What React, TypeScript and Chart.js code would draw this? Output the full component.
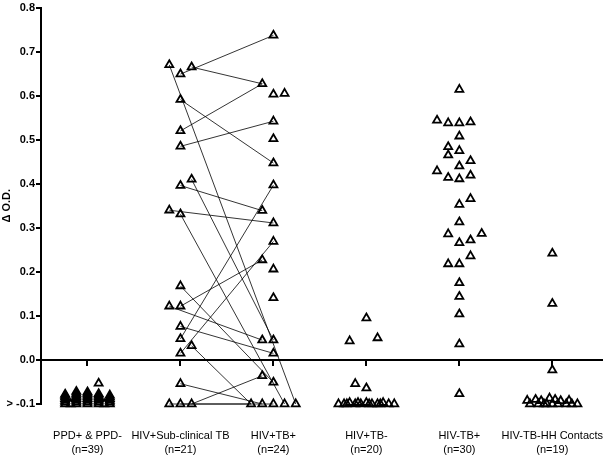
import React, { useEffect, useRef } from "react";
import { Chart, registerables } from "chart.js";

Chart.register(...registerables);

const categories = ["PPD+ & PPD-", "HIV+Sub-clinical TB", "HIV+TB+", "HIV+TB-", "HIV-TB+", "HIV-TB-HH Contacts"];
const counts = ["(n=39)", "(n=21)", "(n=24)", "(n=20)", "(n=30)", "(n=19)"];
const yTicks = [-0.1, 0, 0.1, 0.2, 0.3, 0.4, 0.5, 0.6, 0.7, 0.8];

// jitter slot of each point inside its column
const ppdVals = [-0.053,
  -0.1, -0.096, -0.092, -0.088, -0.084, -0.081, -0.078,
  -0.1, -0.096, -0.092, -0.088, -0.084, -0.08, -0.076, -0.072,
  -0.1, -0.096, -0.092, -0.088, -0.084, -0.08, -0.076, -0.073,
  -0.1, -0.096, -0.092, -0.088, -0.084, -0.08, -0.077,
  -0.1, -0.096, -0.092, -0.088, -0.084, -0.08,
  -0.1, -0.1];
const ppdSlots = [2,
  -4, -4, -4, -4, -4, -4, -4,
  -2, -2, -2, -2, -2, -2, -2, -2,
  0, 0, 0, 0, 0, 0, 0, 0,
  2, 2, 2, 2, 2, 2, 2,
  4, 4, 4, 4, 4, 4,
  -3, 3];

const subVals = [0.67, 0.665, 0.649, 0.591, 0.52, 0.485, 0.41, 0.396, 0.34, 0.331, 0.168, 0.122, 0.122, 0.076, 0.048, 0.032, 0.015, -0.054, -0.1, -0.1, -0.1];
const subSlots = [-2, 2, 0, 0, 0, 0, 2, 0, -2, 0, 0, -2, 0, 0, 0, 2, 0, 0, -2, 0, 2];

const tbVals = [0.737, 0.627, 0.603, 0.605, 0.542, 0.502, 0.447, 0.397, 0.339, 0.311, 0.269, 0.227, 0.206, 0.141, 0.045, 0.045, 0.015, -0.036, -0.051, -0.1, -0.1, -0.1, -0.1, -0.1];
const tbSlots = [0, -2, 0, 2, 0, 0, 0, 0, -2, 0, 0, -2, 0, 0, -2, 0, 0, -2, 0, -4, -2, 0, 2, 4];

// sub-clinical index -> TB+ index
const pairFrom = [0, 1, 2, 3, 4, 5, 6, 7, 8, 9, 10, 11, 12, 13, 14, 15, 16, 17, 18, 19, 20];
const pairTo = [23, 1, 0, 6, 1, 4, 15, 8, 9, 22, 18, 14, 11, 16, 7, 19, 10, 20, 21, 19, 17];

const tbNegVals = [0.095, 0.043, 0.05, -0.054, -0.064, -0.1, -0.1, -0.097, -0.1, -0.1, -0.097, -0.1, -0.1, -0.097, -0.1, -0.1, -0.1, -0.097, -0.1, -0.1];
const tbNegSlots = [0, -3, 2, -2, 0, -5, -4, -3, -2, -1, 0, 1, 2, 3, 4, 5, -3.5, -1.5, 0.5, 2.5];

const hivNegTbVals = [0.614, 0.544, 0.538, 0.538, 0.54, 0.508, 0.484, 0.465, 0.475, 0.452, 0.44, 0.429, 0.414, 0.411, 0.419,
  0.353, 0.366, 0.313, 0.286, 0.266, 0.272, 0.287, 0.236, 0.218, 0.218, 0.175, 0.144, 0.104, 0.036, -0.077];
const hivNegTbSlots = [0, -4, -2, 0, 2, 0, -2, -2, 0, 2, 0, -4, -2, 0, 2,
  0, 2, 0, -2, 0, 2, 4, 2, -2, 0, 0, 0, 0, 0, 0];

const hhVals = [0.242, 0.128, -0.023, -0.092, -0.1, -0.09, -0.1, -0.093, -0.1, -0.087, -0.1, -0.09, -0.1, -0.093, -0.1, -0.092, -0.1, -0.1, -0.1];
const hhSlots = [0, 0, 0, -4.5, -4, -3, -2.5, -2, -1, -0.5, 0, 0.5, 1, 1.5, 2.5, 3, 3.5, 4.5, -1.5];

const SLOT = 0.06;

const toPts = (cat: number, vals: number[], slots: number[]) =>
  vals.map((v, i) => ({ x: cat + slots[i] * SLOT, y: v }));

export default function App() {
  const ref = useRef<HTMLCanvasElement | null>(null);

  useEffect(() => {
    if (!ref.current) return;
    const groups = [
      toPts(0, ppdVals, ppdSlots),
      toPts(1, subVals, subSlots),
      toPts(2, tbVals, tbSlots),
      toPts(3, tbNegVals, tbNegSlots),
      toPts(4, hivNegTbVals, hivNegTbSlots),
      toPts(5, hhVals, hhSlots),
    ];
    const pointSets: any[] = groups.map((g) => ({
      type: "scatter",
      data: g,
      pointStyle: "triangle",
      radius: 4.6,
      borderWidth: 1.8,
      borderColor: "#000",
      backgroundColor: "rgba(0,0,0,0)",
      showLine: false,
      clip: false,
    }));
    const lineSets: any[] = pairFrom.map((a, k) => ({
      type: "line",
      data: [groups[1][a], groups[2][pairTo[k]]],
      borderColor: "#000",
      borderWidth: 0.8,
      pointRadius: 0,
      fill: false,
      clip: false,
    }));
    const fixTicks = (s: any) => {
      s.ticks = categories.map((_, i) => ({ value: i }));
    };
    const font = { family: "Arial, 'Liberation Sans', sans-serif", size: 11, lineHeight: 1.27 };
    const bold = { family: "Arial, 'Liberation Sans', sans-serif", size: 11, weight: "bold" as const };
    const chart = new Chart(ref.current, {
      type: "scatter",
      data: { datasets: [...pointSets, ...lineSets] },
      options: {
        animation: false,
        responsive: false,
        layout: { padding: { top: 7, right: 0, bottom: 0, left: 0 } },
        plugins: { legend: { display: false }, tooltip: { enabled: false } },
        scales: {
          x: {
            type: "linear",
            axis: "x",
            position: { y: 0 } as any,
            min: -0.5,
            max: 5.53,
            afterBuildTicks: fixTicks,
            ticks: { display: false },
            grid: { drawOnChartArea: false, drawTicks: true, tickLength: 5, color: "#000", lineWidth: 2 },
            border: { display: true, color: "#000", width: 2 },
          },
          x2: {
            type: "linear",
            axis: "x",
            position: "bottom",
            min: -0.5,
            max: 5.53,
            afterBuildTicks: fixTicks,
            ticks: {
              callback: (v: any) => {
                const i = Math.round(Number(v));
                return [categories[i], counts[i]];
              },
              font,
              color: "#000",
              maxRotation: 0,
              autoSkip: false,
              padding: 25,
            },
            grid: { display: false, drawTicks: false },
            border: { display: false },
            afterFit: (s: any) => {
              s.height = 53;
              s.paddingLeft = 0;
              s.paddingRight = 0;
            },
          } as any,
          y: {
            type: "linear",
            min: -0.1,
            max: 0.8,
            afterBuildTicks: (s: any) => {
              s.ticks = yTicks.map((v) => ({ value: v }));
            },
            ticks: {
              callback: (v: any) => (Math.abs(Number(v) + 0.1) < 1e-9 ? "> -0.1" : Number(v).toFixed(1)),
              font: bold,
              color: "#000",
              padding: 1,
            },
            grid: { drawOnChartArea: false, drawTicks: true, tickLength: 5, color: "#000", lineWidth: 2 },
            border: { display: true, color: "#000", width: 2 },
            title: { display: true, text: "Δ O.D.", font: bold, color: "#000", padding: 0 },
            afterFit: (s: any) => {
              s.width = 41;
            },
          },
        },
      } as any,
    });
    return () => chart.destroy();
  }, []);

  return (
    <div style={{ position: "absolute", left: 0, top: 0, width: 608, height: 457, background: "#fff" }}>
      <canvas ref={ref} width={608} height={457} style={{ width: 608, height: 457 }} />
    </div>
  );
}
